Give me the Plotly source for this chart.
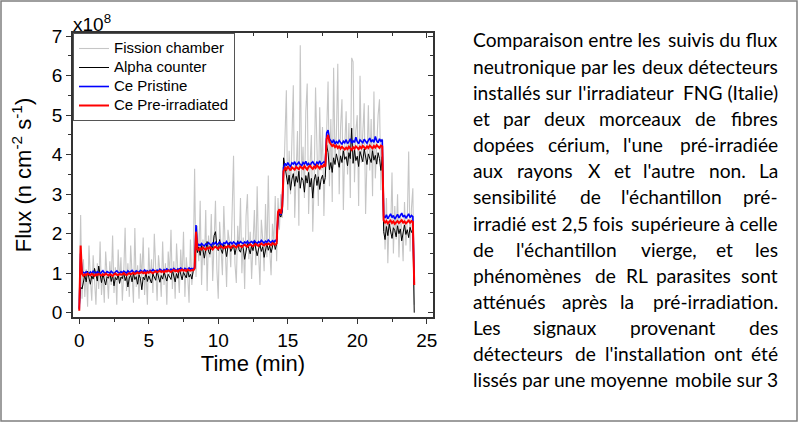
import plotly.graph_objects as go

# ---------------- data (flux in units of 1e8 n cm^-2 s^-1), sampled every 0.1 min ----------------
fission_chamber = [
    0.30, 2.47, 0.35,
    1.35, 0.40, 1.10, 0.15, 1.70, 0.85, 0.30, 1.45, 0.95, 0.20,
    1.25, 0.60, 1.80, 0.45, 1.05, 0.25, 1.55, 0.90, 0.35, 1.30,
    0.70, 1.95, 0.50, 1.15, 0.20, 1.60, 0.80, 1.40, 0.30, 1.00,
    2.15, 0.55, 1.25, 0.40, 1.70, 0.95, 0.25, 2.14, 0.65, 1.20,
    0.35, 1.50, 0.85, 1.90, 0.45, 1.10, 0.20, 1.65, 0.75, 1.35,
    0.50, 2.00, 0.90, 0.30, 1.45, 1.05, 0.40, 1.80, 0.70, 1.25,
    0.20, 1.55, 0.95, 2.10, 0.60, 1.30, 0.35, 1.75, 1.00, 0.50,
    1.60, 0.85, 2.05, 0.40, 1.40, 0.95, 0.25, 1.85, 0.70, 1.20,
    3.64,
    0.90, 2.20, 1.30, 2.83, 0.70, 1.85, 1.20, 2.60, 0.55, 1.95,
    1.40, 2.50, 0.80, 1.75, 2.83, 1.10, 0.35, 2.30, 1.60, 0.95,
    2.70, 1.45, 0.65, 2.10, 1.80, 1.15, 2.40, 3.97, 1.25, 0.75,
    2.20, 1.55, 2.90, 1.00, 1.90, 0.60, 2.45, 3.00, 1.35, 2.05,
    0.85, 1.70, 2.60, 1.20, 3.20, 1.50, 0.70, 2.35, 1.85, 1.05,
    2.75, 1.40, 3.47, 1.60, 0.95, 2.25, 1.75, 2.95, 1.30,
    2.90, 2.10, 3.00, 2.40,
    3.20, 4.40, 5.63, 2.60, 4.10, 3.00, 4.80, 5.76, 2.40, 3.90,
    4.60, 2.20, 6.77, 3.40, 4.20, 2.90, 5.10, 5.80, 2.50, 3.70,
    4.50, 2.05, 3.30, 5.70, 4.00, 2.70, 5.20, 3.60, 4.70, 2.45, 3.85,
    4.60, 5.85, 3.20, 4.90, 2.80, 6.20, 3.90, 4.50, 6.30, 3.00,
    4.70, 5.40, 2.60, 4.20, 5.10, 3.50, 4.80, 2.90, 6.45, 6.35,
    3.30, 4.60, 5.00, 2.70, 6.00, 3.80, 4.40, 5.30, 2.50, 4.10,
    5.25, 3.60, 4.90, 2.95, 5.60, 3.40, 4.30, 5.00, 5.40, 3.10, 4.40,
    2.60, 1.60, 2.90, 1.25, 2.40, 2.00, 3.55, 1.50, 2.70, 1.85,
    3.00, 1.40, 2.50, 2.10, 1.30, 2.80, 1.70, 2.35, 4.08, 1.55, 2.65, 3.15,
    0.20,
]

alpha_counter = [
    0.10, 0.65, 0.60,
    0.82, 0.95, 0.78, 1.05, 0.88, 0.72, 0.93, 0.85, 1.12, 0.90,
    0.80, 1.18, 0.92, 0.76, 0.98, 0.84, 0.70, 0.91, 0.87, 1.02,
    0.79, 0.94, 0.68, 0.89, 0.83, 0.97, 0.74, 0.90, 0.86, 1.04,
    0.81, 0.92, 0.65, 0.88, 0.95, 0.78, 1.00, 0.84, 0.91, 0.72,
    0.96, 0.87, 0.58, 0.90, 0.83, 1.01, 0.79, 0.93, 0.86, 0.75,
    0.98, 0.88, 0.82, 1.06, 0.90, 0.77, 0.94, 0.85, 1.03, 0.89,
    0.80, 0.97, 0.91, 0.84, 1.08, 0.92, 0.78, 0.99, 0.87, 1.12,
    0.93, 0.83, 1.02, 0.95, 0.88, 1.10, 0.90, 0.97, 0.85, 1.05,
    1.10,
    1.75, 1.52, 1.66, 1.45, 1.70, 1.58, 1.38, 1.63, 1.80, 1.55,
    1.48, 1.72, 1.62, 1.95, 2.05, 1.68, 1.57, 1.85, 1.60, 1.50,
    1.73, 1.64, 1.42, 1.67, 1.78, 1.55, 1.61, 1.70, 1.47, 1.66,
    1.82, 1.59, 1.53, 1.71, 1.63, 1.35, 1.58, 1.75, 1.62, 1.49,
    1.69, 1.57, 1.80, 1.65, 1.44, 1.61, 1.72, 1.55, 1.67, 1.40,
    1.63, 1.76, 1.58, 1.70, 1.52, 1.66, 1.81, 1.60, 1.74,
    2.35, 2.50, 2.42, 2.55,
    3.92, 3.70, 3.55, 3.25, 3.48, 3.10, 3.38, 3.52, 3.20, 3.45,
    3.30, 3.58, 3.15, 3.42, 3.35, 3.05, 3.47, 3.28, 3.55, 3.18,
    3.40, 2.90, 3.36, 3.50, 3.22, 3.44, 3.12, 3.38, 3.48, 3.26, 3.42,
    4.25, 4.05, 3.62, 3.80, 3.55, 3.92, 3.75, 4.02, 3.85, 3.68,
    3.97, 3.80, 4.10, 3.88, 3.95, 3.72, 4.05, 3.90, 4.67, 3.78,
    4.12, 3.85, 3.96, 3.70, 4.08, 3.92, 3.82, 4.15, 3.88, 3.75,
    4.02, 3.93, 3.80, 4.10, 3.86, 3.98, 3.76, 4.05, 3.90, 3.60, 3.95,
    2.05, 1.85, 2.18, 1.95, 2.25, 2.02, 1.88, 2.15, 2.08, 1.92,
    2.20, 2.00, 2.12, 1.82, 2.05, 2.22, 1.98, 2.10, 1.90, 2.16, 2.03, 2.12,
    0.00,
]

ce_pristine = [
    0.10, 1.50, 1.02,
    1.02, 0.99, 1.04, 1.01, 0.98, 1.03, 1.00, 1.05, 1.01, 0.99,
    1.04, 1.02, 0.98, 1.03, 1.06, 1.01, 0.99, 1.04, 1.02, 1.00,
    1.05, 1.01, 0.98, 1.03, 1.06, 1.02, 1.00, 1.04, 1.01, 1.05,
    1.03, 1.00, 1.06, 1.02, 1.04, 1.07, 1.03, 1.01, 1.06, 1.04,
    1.02, 1.07, 1.05, 1.03, 1.08, 1.04, 1.06, 1.02, 1.07, 1.05,
    1.09, 1.06, 1.04, 1.08, 1.05, 1.10, 1.07, 1.05, 1.09, 1.06,
    1.11, 1.08, 1.06, 1.10, 1.07, 1.12, 1.09, 1.06, 1.11, 1.08,
    1.13, 1.09, 1.07, 1.12, 1.10, 1.08, 1.13, 1.10, 1.12, 1.09,
    1.15,
    2.22, 1.68, 1.73, 1.70, 1.75, 1.71, 1.69, 1.74, 1.72, 1.77,
    1.73, 1.70, 1.76, 1.74, 1.78, 1.72, 1.75, 1.79, 1.74, 1.71,
    1.77, 1.75, 1.80, 1.73, 1.76, 1.78, 1.74, 1.79, 1.76, 1.72,
    1.78, 1.75, 1.80, 1.77, 1.74, 1.79, 1.76, 1.81, 1.75, 1.78,
    1.80, 1.76, 1.82, 1.78, 1.75, 1.80, 1.77, 1.83, 1.79, 1.76,
    1.81, 1.78, 1.84, 1.80, 1.77, 1.82, 1.79, 1.83, 1.80,
    2.45, 2.58, 2.48, 2.62,
    3.68, 3.78, 3.72, 3.80, 3.74, 3.70, 3.79, 3.76, 3.82, 3.73,
    3.77, 3.81, 3.75, 3.72, 3.80, 3.76, 3.83, 3.74, 3.78, 3.71,
    3.79, 3.82, 3.76, 3.73, 3.81, 3.77, 3.84, 3.75, 3.79, 3.82, 3.78,
    4.55, 4.62, 4.40, 4.35, 4.30, 4.38, 4.27, 4.33, 4.29, 4.36,
    4.31, 4.26, 4.34, 4.30, 4.38, 4.28, 4.33, 4.40, 4.29, 4.35,
    4.31, 4.44, 4.33, 4.28, 4.37, 4.32, 4.30, 4.39, 4.34, 4.29,
    4.36, 4.42, 4.32, 4.38, 4.31, 4.46, 4.35, 4.30, 4.40, 4.34, 4.38,
    2.45, 2.40, 2.48, 2.38, 2.43, 2.50, 2.41, 2.46, 2.37, 2.44,
    2.49, 2.40, 2.45, 2.52, 2.42, 2.47, 2.39, 2.44, 2.50, 2.41, 2.46, 2.43,
    0.75,
]

ce_pre_irradiated = [
    0.05, 1.70, 0.98,
    0.93, 0.97, 0.95, 0.99, 0.96, 0.94, 0.98, 0.96, 0.93, 0.97,
    0.95, 0.98, 0.96, 0.94, 0.97, 0.95, 0.99, 0.96, 0.94, 0.97,
    0.96, 0.93, 0.97, 0.99, 0.96, 0.95, 0.98, 0.96, 0.97, 1.00,
    0.97, 0.95, 0.98, 1.00, 0.97, 0.99, 1.01, 0.98, 1.00, 1.02,
    0.99, 1.01, 1.03, 1.00, 1.02, 0.99, 1.03, 1.01, 1.04, 1.02,
    1.00, 1.03, 1.05, 1.02, 1.04, 1.06, 1.03, 1.05, 1.02, 1.06,
    1.04, 1.07, 1.05, 1.03, 1.06, 1.08, 1.05, 1.07, 1.04, 1.08,
    1.06, 1.09, 1.06, 1.08, 1.05, 1.09, 1.07, 1.06, 1.08, 1.07,
    1.12,
    2.05, 1.62, 1.58, 1.63, 1.60, 1.65, 1.61, 1.59, 1.64, 1.62,
    1.66, 1.63, 1.60, 1.65, 1.67, 1.64, 1.62, 1.66, 1.68, 1.65,
    1.63, 1.67, 1.65, 1.69, 1.66, 1.64, 1.68, 1.70, 1.67, 1.65,
    1.69, 1.71, 1.68, 1.66, 1.70, 1.72, 1.69, 1.67, 1.71, 1.73,
    1.70, 1.68, 1.72, 1.74, 1.71, 1.69, 1.73, 1.75, 1.72, 1.70,
    1.74, 1.72, 1.75, 1.73, 1.71, 1.76, 1.74, 1.72, 1.75,
    2.55, 2.62, 2.50, 2.68,
    3.58, 3.66, 3.62, 3.70, 3.64, 3.60, 3.68, 3.65, 3.62, 3.69,
    3.66, 3.63, 3.70, 3.67, 3.64, 3.71, 3.66, 3.62, 3.69, 3.72,
    3.67, 3.64, 3.70, 3.66, 3.73, 3.68, 3.65, 3.71, 3.69, 3.74, 3.70,
    4.40, 4.50, 4.32, 4.28, 4.22, 4.25, 4.19, 4.23, 4.17, 4.21,
    4.15, 4.20, 4.16, 4.13, 4.18, 4.14, 4.20, 4.16, 4.12, 4.19,
    4.15, 4.21, 4.17, 4.14, 4.20, 4.16, 4.22, 4.18, 4.15, 4.21,
    4.17, 4.23, 4.19, 4.16, 4.22, 4.18, 4.24, 4.20, 4.17, 4.23, 4.21,
    2.34, 2.28, 2.32, 2.26, 2.30, 2.33, 2.27, 2.31, 2.25, 2.29,
    2.32, 2.27, 2.30, 2.34, 2.28, 2.31, 2.26, 2.30, 2.33, 2.28, 2.32, 2.30,
    0.70,
]

for s in (fission_chamber, alpha_counter, ce_pristine, ce_pre_irradiated):
    assert len(s) == 242, len(s)

time_min = [round(0.1 * i, 1) for i in range(242)]

series_names = ["Fission chamber", "Alpha counter", "Ce Pristine", "Ce Pre-irradiated"]
x_ticks = [0, 5, 10, 15, 20, 25]
y_ticks = [0, 1, 2, 3, 4, 5, 6, 7]

# caption, one entry per printed line; "|" marks the chunks that are spread to justify the line
# (lines without "|" are justified word by word)
caption_lines = [
    "Comparaison entre les|suivis du flux",
    "neutronique par les|deux détecteurs",
    "installés sur|l'irradiateur|FNG (Italie)",
    "et par deux morceaux de fibres",
    "dopées cérium, l'une pré-irradiée",
    "aux rayons X et l'autre non. La",
    "sensibilité de l'échantillon pré-",
    "irradié est 2,5 fois|supérieure à celle",
    "de l'échantillon vierge, et les",
    "phénomènes de RL parasites sont",
    "atténués après la pré-irradiation.",
    "Les signaux provenant des",
    "détecteurs de l'installation ont été",
    "lissés par une moyenne|mobile sur 3",
]

# ---------------- layout geometry (pixels) ----------------
W, H = 800, 426
PL, PR, PT, PB = 73, 433, 33, 317


def px(x):
    return (x - PL) / (PR - PL)


def py(y):
    return (PB - y) / (PB - PT)


AX_FONT = "Liberation Sans, Arial, sans-serif"
TXT_FONT = "Lato, Open Sans, sans-serif"
TXT_SIZE = 19.2

# approximate advance widths of Lato (em) used to justify the caption
_w = {' ': .193, 'a': .49, 'b': .55, 'c': .46, 'd': .56, 'e': .52, 'f': .33, 'g': .50, 'h': .55,
      'i': .24, 'j': .24, 'k': .50, 'l': .24, 'm': .83, 'n': .55, 'o': .55, 'p': .55, 'q': .55,
      'r': .38, 's': .42, 't': .35, 'u': .56, 'v': .50, 'w': .76, 'x': .50, 'y': .50, 'z': .45,
      "'": .19, ',': .21, '.': .21, '-': .33, 'X': .63, 'L': .47, 'R': .60, 'F': .52, 'N': .74,
      'G': .71, 'C': .66, 'I': .27, '(': .30, ')': .30, '2': .58, '3': .58, '5': .58}
_acc = {'é': 'e', 'è': 'e', 'à': 'a'}


def text_width(s):
    return 1.05 * TXT_SIZE * sum(_w.get(_acc.get(ch, ch), .5) for ch in s)


fig = go.Figure()
styles = [
    dict(color="#c6c6c6", width=1.1),
    dict(color="#000000", width=1.0),
    dict(color="#0000ff", width=1.6),
    dict(color="#ff0000", width=2.0),
]
for name, vals, st in zip(series_names,
                          [fission_chamber, alpha_counter, ce_pristine, ce_pre_irradiated],
                          styles):
    fig.add_trace(go.Scatter(
        x=time_min[:len(vals)], y=vals, mode="lines",
        name='<span style="font-size:15px">' + name + "</span>",
        line=st))

# dummy trace to materialise mirrored axes (top / right, ticks inside)
fig.add_trace(go.Scatter(x=[None], y=[None], xaxis="x2", yaxis="y2", showlegend=False, hoverinfo="skip"))

xr = [-0.45, 25.45]
yr = [-0.11, 7.08]
axis_common = dict(showgrid=False, zeroline=False, showline=True, linecolor="#333333", linewidth=1.5,
                   ticklen=5, tickwidth=1, tickcolor="#333333")

fig.update_layout(
    width=W, height=H,
    margin=dict(l=PL, r=W - PR, t=PT, b=H - PB),
    paper_bgcolor="white", plot_bgcolor="white",
    font=dict(family=AX_FONT, color="black"),
    xaxis=dict(range=xr, tickvals=x_ticks, ticks="outside",
               minor=dict(ticks="outside", dtick=2.5, tick0=0, ticklen=3, tickcolor="#333333"),
               tickfont=dict(size=19), title=dict(text="Time (min)", font=dict(size=22), standoff=2),
               **axis_common),
    yaxis=dict(range=yr, tickvals=y_ticks, ticks="outside",
               minor=dict(ticks="outside", dtick=0.5, tick0=0, ticklen=3, tickcolor="#333333"),
               tickfont=dict(size=19),
               title=dict(text="Flux (n cm<sup>-2</sup> s<sup>-1</sup>)", font=dict(size=22), standoff=14),
               **axis_common),
    xaxis2=dict(range=xr, overlaying="x", side="top", anchor="y", tickvals=x_ticks, ticks="inside",
                showticklabels=False,
                minor=dict(ticks="inside", dtick=2.5, tick0=0, ticklen=3, tickcolor="#333333"),
                **axis_common),
    yaxis2=dict(range=yr, overlaying="y", side="right", anchor="x", tickvals=y_ticks, ticks="inside",
                showticklabels=False,
                minor=dict(ticks="inside", dtick=0.5, tick0=0, ticklen=3, tickcolor="#333333"),
                **axis_common),
    legend=dict(x=0.0, y=1.0, xanchor="left", yanchor="top", bgcolor="white",
                bordercolor="#555555", borderwidth=1, font=dict(size=11.3, family=AX_FONT),
                tracegroupgap=0, itemwidth=30),
    showlegend=True,
)

annotations = [
    dict(text="x10<sup>8</sup>", x=px(71), y=py(23), xref="paper", yref="paper",
         xanchor="left", yanchor="middle", showarrow=False, font=dict(size=19, family=AX_FONT)),
]

# justified caption text: equal gaps; left half laid out from the left margin,
# right half laid out from the right margin so estimation errors meet in the middle
TL, TR = 471, 780
LINE0, LSTEP = 40, 26.15
tfont = dict(size=TXT_SIZE, family=TXT_FONT, color="black")
for i, line in enumerate(caption_lines):
    yc = py(LINE0 + i * LSTEP)
    words = line.split("|") if "|" in line else line.split(" ")
    widths = [text_width(w) for w in words]
    n = len(words)
    gap = (TR - TL - sum(widths)) / (n - 1)
    nleft = (n + 1) // 2
    xpos = TL
    for k in range(nleft):
        annotations.append(dict(text=words[k], x=px(xpos), y=yc, xanchor="left"))
        xpos += widths[k] + gap
    xpos = TR
    for k in range(n - 1, nleft - 1, -1):
        annotations.append(dict(text=words[k], x=px(xpos), y=yc, xanchor="right"))
        xpos -= widths[k] + gap

for a in annotations[1:]:
    a.update(xref="paper", yref="paper", yanchor="middle", showarrow=False, font=tfont)

fig.update_layout(annotations=annotations)

# outer frame around the whole figure
fig.add_shape(type="rect", xref="paper", yref="paper",
              x0=px(1), x1=px(797), y0=py(421), y1=py(1),
              line=dict(color="#7f7f7f", width=1.5), fillcolor="rgba(0,0,0,0)", layer="above")

fig.write_html("out.html", config={"displayModeBar": False},
               post_script="document.body.style.margin='0';document.body.style.padding='0';"
                           "document.body.style.overflow='hidden';")
